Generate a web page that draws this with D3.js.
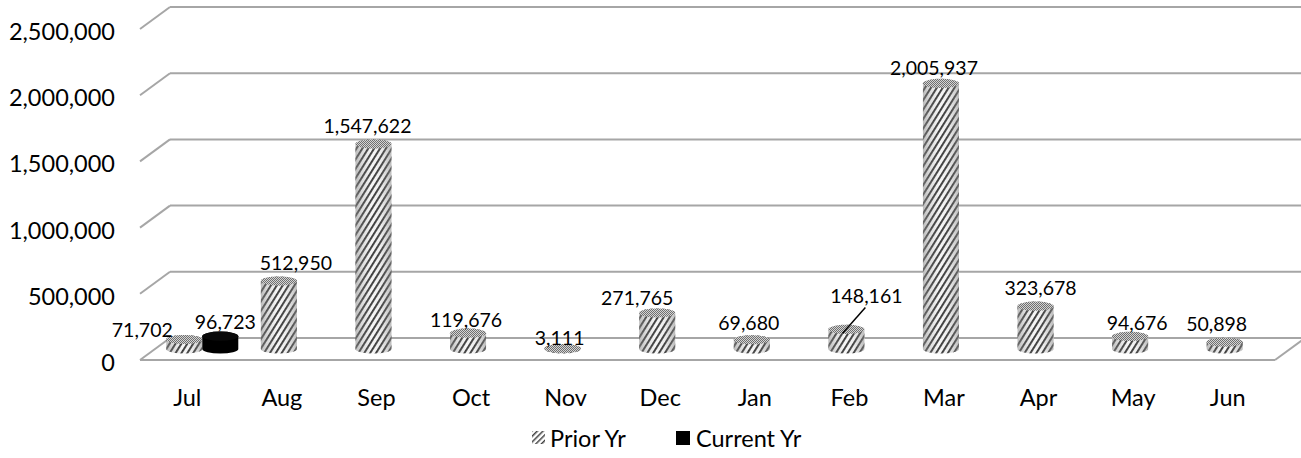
<!DOCTYPE html>
<html>
<head>
<meta charset="utf-8">
<script src="https://cdn.jsdelivr.net/npm/d3@7/dist/d3.min.js"></script>
<style>
  html, body { margin: 0; padding: 0; background: #fff; }
  svg { display: block; font-family: Lato, "Open Sans", sans-serif; }
</style>
</head>
<body>
<svg id="chart" width="1301" height="458"></svg>
<script>
// ---------- data ----------
const months = ["Jul","Aug","Sep","Oct","Nov","Dec","Jan","Feb","Mar","Apr","May","Jun"];
const priorYr = [71702, 512950, 1547622, 119676, 3111, 271765, 69680, 148161, 2005937, 323678, 94676, 50898];
const currentYr = [96723, null, null, null, null, null, null, null, null, null, null, null];
const yTicks = [0, 500000, 1000000, 1500000, 2000000, 2500000];
const seriesNames = ["Prior Yr", "Current Yr"];

// ---------- layout ----------
const frontY0 = 360, depthDX = 30, depthDY = -22;
const plotLeft = 140, plotRight = 1275;
const cylRx = 18, cylRy = 4.6;
// label nudges (layout only), per category: [dx, dy]
const priorNudge = [[-42,5.5],[17,-3],[-6,-3],[-2,2],[-3,5],[-20,0],[-3,-1],[20,-18],[-7,0],[5,-3],[7,2.5],[-8,-3]];
const currentNudge = [[5,1]];

const svg = d3.select("#chart");
const defs = svg.append("defs");

// hatch pattern for Prior Yr
const hatch = defs.append("pattern").attr("id","hatch")
  .attr("patternUnits","userSpaceOnUse").attr("width",5).attr("height",5)
  .attr("patternTransform","rotate(32)");
hatch.append("rect").attr("width",5).attr("height",5).attr("fill","#f6f6f6");
hatch.append("rect").attr("x",0).attr("width",1.9).attr("height",5).attr("fill","#3a3a3a");

// stipple for top ellipse
const stip = defs.append("pattern").attr("id","stipple")
  .attr("patternUnits","userSpaceOnUse").attr("width",2).attr("height",2);
stip.append("rect").attr("width",2).attr("height",2).attr("fill","#d4d4d4");
stip.append("rect").attr("width",1).attr("height",1).attr("fill","#707070");
stip.append("rect").attr("x",1).attr("y",1).attr("width",1).attr("height",1).attr("fill","#707070");

// cylinder shading
const shade = defs.append("linearGradient").attr("id","shade").attr("x1","0").attr("x2","1").attr("y1","0").attr("y2","0");
[[0,0.55],[0.18,0.25],[0.45,0],[0.7,0.08],[0.9,0.35],[1,0.55]].forEach(([o,a]) =>
  shade.append("stop").attr("offset",o).attr("stop-color","#8a8a8a").attr("stop-opacity",a));

// legend hatch (small)
const lh = defs.append("pattern").attr("id","lhatch")
  .attr("patternUnits","userSpaceOnUse").attr("width",4).attr("height",4)
  .attr("patternTransform","rotate(45)");
lh.append("rect").attr("width",4).attr("height",4).attr("fill","#fff");
lh.append("rect").attr("width",1.5).attr("height",4).attr("fill","#444");

// scales
const x = d3.scaleBand().domain(months).range([plotLeft, plotRight]);
const h = d3.scaleLinear().domain([0, 2500000]).range([0, 331]);
const fmt = d3.format(",");

// ---------- walls / gridlines ----------
const grid = svg.append("g").attr("stroke","#a6a6a6").attr("stroke-width",2).attr("fill","none");
yTicks.forEach(v => {
  const fy = frontY0 - h(v), by = fy + depthDY;
  grid.append("line").attr("x1",plotLeft).attr("y1",fy).attr("x2",plotLeft+depthDX).attr("y2",by);
  grid.append("line").attr("x1",plotLeft+depthDX).attr("y1",by).attr("x2",plotRight+depthDX).attr("y2",by);
});
// floor
grid.append("line").attr("x1",plotLeft).attr("y1",frontY0).attr("x2",plotRight).attr("y2",frontY0);
grid.append("line").attr("x1",plotRight).attr("y1",frontY0).attr("x2",plotRight+depthDX).attr("y2",frontY0+depthDY);

// y labels
svg.append("g").selectAll("text").data(yTicks).join("text")
  .attr("x",115).attr("y",v => frontY0 - h(v) + 2)
  .attr("text-anchor","end").attr("dominant-baseline","central")
  .attr("font-size",23.5).attr("fill","#000").text(v => fmt(v));

// category labels
svg.append("g").selectAll("text").data(months).join("text")
  .attr("x",m => x(m) + x.bandwidth()/2).attr("y",397)
  .attr("text-anchor","middle").attr("dominant-baseline","central")
  .attr("font-size",23.5).attr("fill","#000").text(m => m);

// ---------- cylinders ----------
const baseY = frontY0 + depthDY/2;
const midDX = depthDX/2;
function cylinder(g, cx, val, body, top, shadeIt) {
  const t = baseY - h(val), l = cx - cylRx, r = cx + cylRx;
  const d = `M${l},${t} L${l},${baseY} A${cylRx},${cylRy} 0 0 0 ${r},${baseY} L${r},${t} A${cylRx},${cylRy} 0 0 0 ${l},${t} Z`;
  g.append("path").attr("d",d).attr("fill",body);
  if (shadeIt) g.append("path").attr("d",d).attr("fill","url(#shade)");
  g.append("ellipse").attr("cx",cx).attr("cy",t).attr("rx",cylRx).attr("ry",cylRy).attr("fill",top);
  return t;
}
const bars = svg.append("g");
const labels = svg.append("g").attr("font-size",19.5).attr("text-anchor","middle").attr("fill","#000");
months.forEach((m, i) => {
  const bc = x(m) + x.bandwidth()/2 + midDX;
  const pv = priorYr[i];
  if (pv != null) {
    const cx = bc - cylRx;
    const t = cylinder(bars, cx, pv, "url(#hatch)", "url(#stipple)", true);
    const [ndx, ndy] = priorNudge[i] || [0,0];
    const lx = cx + ndx, ly = t - 16 + ndy;
    labels.append("text").attr("x",lx).attr("y",ly).attr("dominant-baseline","central").text(fmt(pv));
    if (m === "Feb") {
      labels.append("line").attr("x1",lx - 1).attr("y1",ly + 12).attr("x2",cx - 4).attr("y2",t + 4)
        .attr("stroke","#000").attr("stroke-width",1.5);
    }
  }
  const cv = currentYr[i];
  if (cv != null) {
    const cx = bc + cylRx;
    const t = cylinder(bars, cx, cv, "#000", "#0a0a0a", false);
    const [ndx, ndy] = currentNudge[i] || [0,0];
    labels.append("text").attr("x",cx + ndx).attr("y",t - 16 + ndy).attr("dominant-baseline","central").text(fmt(cv));
  }
});

// ---------- legend ----------
const leg = svg.append("g").attr("font-size",23.5).attr("fill","#000");
leg.append("rect").attr("x",532).attr("y",431).attr("width",13).attr("height",13).attr("fill","url(#lhatch)");
leg.append("text").attr("x",550).attr("y",438).attr("dominant-baseline","central").text(seriesNames[0]);
leg.append("rect").attr("x",676).attr("y",431).attr("width",14).attr("height",14).attr("fill","#000");
leg.append("text").attr("x",696).attr("y",438).attr("dominant-baseline","central").text(seriesNames[1]);
</script>
</body>
</html>
